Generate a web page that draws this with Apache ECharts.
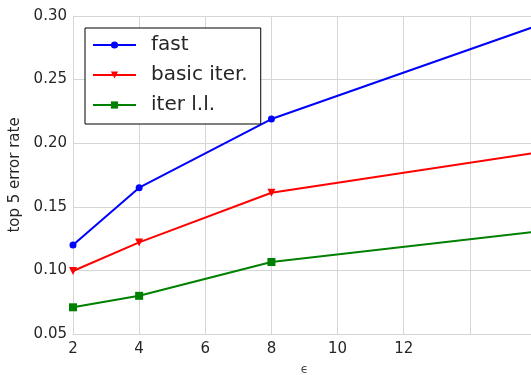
<!DOCTYPE html>
<html>
<head>
<meta charset="utf-8">
<script src="https://cdn.jsdelivr.net/npm/echarts@6/dist/echarts.min.js"></script>
<style>html,body{margin:0;padding:0;background:#fff}#c{width:531px;height:375px}</style>
</head>
<body>
<div id="c"></div>
<script>
var epsilons = [2, 4, 8, 16];
var fast = [0.120, 0.165, 0.219, 0.292];
var basicIter = [0.0995, 0.122, 0.161, 0.1925];
var iterLL = [0.071, 0.080, 0.1066, 0.1305];
var seriesNames = ['fast', 'basic iter.', 'iter l.l.'];

function pairs(vals) { return epsilons.map(function (e, i) { return [e, vals[i]]; }); }

var chart = echarts.init(document.getElementById('c'), null, {renderer: 'canvas'});
var font = 'DejaVu Sans';
var txt = '#262626';
var gridCol = '#d6d6d6';
chart.setOption({
  animation: false,
  backgroundColor: '#ffffff',
  grid: {left: 73, top: 16, right: -5, bottom: 41, containLabel: false, outerBoundsMode: 'none'},
  legend: {
    left: 85, top: 28, orient: 'vertical',
    backgroundColor: '#ffffff', borderColor: '#000000', borderWidth: 1, borderRadius: 0,
    padding: [7, 13, 9, 7], itemWidth: 43, itemHeight: 9, itemGap: 10,
    textStyle: {fontFamily: font, fontSize: 20, color: txt, padding: [0, 0, 0, 10], lineHeight: 20},
    data: seriesNames
  },
  xAxis: {
    type: 'value', min: 2, max: 16, interval: 2,
    name: 'ϵ', nameLocation: 'middle', nameGap: 30,
    nameTextStyle: {fontFamily: font, fontSize: 12, color: '#444'},
    axisLine: {show: true, lineStyle: {color: gridCol}},
    axisTick: {show: false},
    axisLabel: {fontFamily: font, fontSize: 15, color: txt, margin: 8,
      formatter: function (v) { return (v === 14 || v === 16) ? '' : String(v); }},
    splitLine: {show: true, lineStyle: {color: gridCol, width: 1}}
  },
  yAxis: {
    type: 'value', min: 0.05, max: 0.30, interval: 0.05,
    name: 'top 5 error rate', nameLocation: 'middle', nameGap: 47, nameRotate: 90,
    nameTextStyle: {fontFamily: font, fontSize: 15, color: txt},
    axisLine: {show: true, lineStyle: {color: gridCol}},
    axisTick: {show: false},
    axisLabel: {fontFamily: font, fontSize: 15, color: txt, margin: 6,
      formatter: function (v) { return v.toFixed(2); }},
    splitLine: {show: true, lineStyle: {color: gridCol, width: 1}}
  },
  series: [
    {name: seriesNames[0], type: 'line', data: pairs(fast), color: '#0000ff',
      symbol: 'circle', symbolSize: 7, showAllSymbol: true,
      lineStyle: {width: 2, color: '#0000ff'}, itemStyle: {color: '#0000ff'}},
    {name: seriesNames[1], type: 'line', data: pairs(basicIter), color: '#ff0000',
      symbol: 'triangle', symbolRotate: 180, symbolSize: 8, showAllSymbol: true,
      lineStyle: {width: 2, color: '#ff0000'}, itemStyle: {color: '#ff0000'}},
    {name: seriesNames[2], type: 'line', data: pairs(iterLL), color: '#008000',
      symbol: 'rect', symbolSize: 8, showAllSymbol: true,
      lineStyle: {width: 2, color: '#008000'}, itemStyle: {color: '#008000'}}
  ]
});
</script>
</body>
</html>
